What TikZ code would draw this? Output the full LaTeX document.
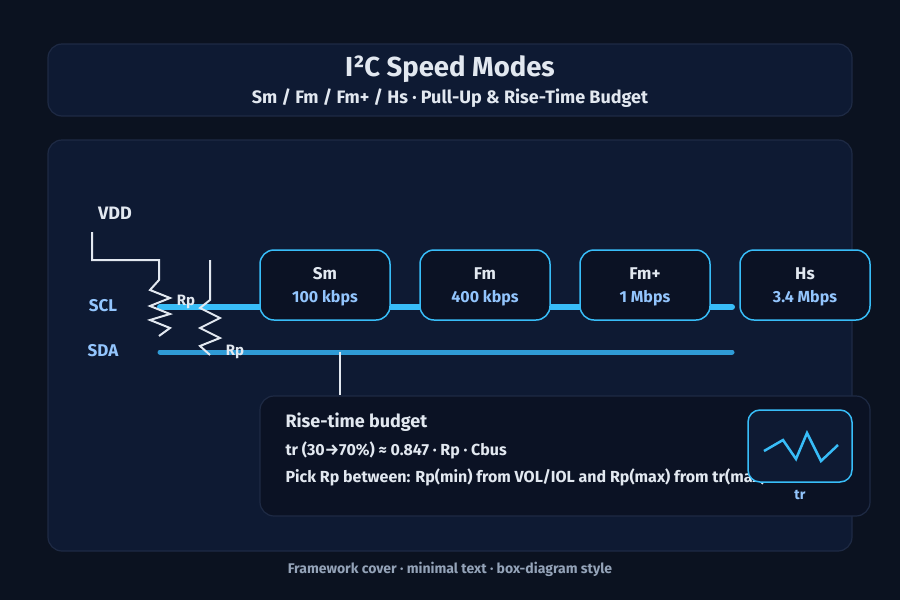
\documentclass[tikz,border=0pt]{standalone}
\usepackage{fontspec}
\setmainfont{Fira Sans}
\usetikzlibrary{positioning}
\definecolor{pagebg}{HTML}{0B1220}
\definecolor{panelbg}{HTML}{0E1A33}
\definecolor{panelline}{HTML}{1E2A44}
\definecolor{boxbg}{HTML}{0B1224}
\definecolor{busblue}{HTML}{38BDF8}
\definecolor{sdablue}{HTML}{2F9BD6}
\definecolor{ratetext}{HTML}{93C5FD}
\definecolor{wire}{HTML}{E2E8F0}
\definecolor{mutetext}{HTML}{94A3B8}
\tikzstyle{panel}=[draw=panelline, line width=1.2pt, fill=panelbg, rounded corners=14pt]
\tikzstyle{mode}=[draw=busblue, line width=1.5pt, fill=boxbg, rounded corners=14pt,
		minimum width=130pt, minimum height=70pt, inner sep=0]
\tikzstyle{lbl}=[text=ratetext, font=\fontsize{17}{20}\selectfont\bfseries]
\tikzstyle{res}=[draw=wire, line width=2pt]
\begin{document}
\begin{tikzpicture}[x=1pt,y=-1pt]
	\fill[pagebg] (0,0) rectangle (900,600);
	\useasboundingbox (0,0) rectangle (900,600);
	% header
	\draw[panel] (48,44) rectangle (852,116);
	\node[text=wire, font=\fontsize{27.5}{32}\selectfont\bfseries] (title) at (450,69) {I²C Speed Modes};
	\node[text=wire, font=\fontsize{18}{21}\selectfont\bfseries] (subtitle) at (450,98) {Sm / Fm / Fm+ / Hs · Pull-Up \& Rise-Time Budget};
	% main panel
	\draw[panel] (48,140) rectangle (852,551);
	\node[text=mutetext, font=\fontsize{14}{16}\selectfont\bfseries] (footer) at (450,569) {Framework cover · minimal text · box-diagram style};
	% buses
	\coordinate (sclA) at (160,307);
	\coordinate (sclB) at (732,307);
	\coordinate (sdaA) at (160,352);
	\coordinate (sdaB) at (732,352);
	\draw[busblue, line width=6pt, line cap=round] (sclA) -- (sclB);
	\draw[sdablue, line width=5pt, line cap=round] (sdaA) -- (sdaB);
	\node[lbl] (scl) at (103,306) {SCL};
	\node[lbl] (sda) at (103,351) {SDA};
	% mode boxes
	\node[mode] (sm) at (325,285) {};
	\node[mode] (fm) at (485,285) {};
	\node[mode] (fmp) at (645,285) {};
	\node[mode] (hs) at (805,285) {};
	\foreach \n/\t/\r in {sm/Sm/100 kbps, fm/Fm/400 kbps, fmp/Fm+/1 Mbps, hs/Hs/3.4 Mbps} {
		\node[text=wire, font=\fontsize{17}{20}\selectfont\bfseries] at ([yshift=11pt]\n.center) {\t};
		\node[text=ratetext, font=\fontsize{16}{19}\selectfont\bfseries] at ([yshift=-13pt]\n.center) {\r};
	}
	% pull-ups
	\node[text=wire, font=\fontsize{18}{21}\selectfont\bfseries] (vdd) at (115,213) {VDD};
	\coordinate (vddA) at (92,232);
	\draw[res] (vddA) |- (159,260) -- (159,280) -- (150,290) -- (170,298) -- (150,306) -- (170,314) -- (150,320) -- (170,328) -- (159,336);
	\node[text=wire, font=\fontsize{15}{17}\selectfont\bfseries] (rp1) at (186,302) {Rp};
	\coordinate (rtop) at (210,260);
	\draw[res] (rtop) -- (210,300) -- (200,308) -- (220,318) -- (200,328) -- (220,338) -- (200,346) -- (210,355);
	\node[text=wire, font=\fontsize{15}{17}\selectfont\bfseries] (rp2) at (235,352) {Rp};
	% rise-time box
	\draw[panel, fill=boxbg] (260,396) rectangle (870,516);
	\coordinate (tap) at (340,352);
	\draw[wire, line width=2pt] (tap) -- (340,395);
	\node[anchor=west, text=wire, font=\fontsize{18}{21}\selectfont\bfseries] (rt) at (282,422) {Rise-time budget};
	\node[anchor=west, text=wire, font=\fontsize{16}{19}\selectfont\bfseries] (eq) at (282,450) {tr (30→70\%) ≈ 0.847 · Rp · Cbus};
	\node[anchor=west, text=wire, font=\fontsize{16}{19}\selectfont\bfseries] (pick) at (282,477) {Pick Rp between: Rp(min) from VOL/IOL and Rp(max) from tr(max)};
	\draw[draw=busblue, line width=1.5pt, fill=panelbg, rounded corners=12pt] (748,410) rectangle (852,482);
	\draw[busblue, line width=2.5pt] (764,451) -- (783,440) -- (796,459) -- (807,433) -- (821,461) -- (838,445);
	\node[text=ratetext, font=\fontsize{14}{16}\selectfont\bfseries] (tr) at (800,495) {tr};
\end{tikzpicture}
\end{document}
